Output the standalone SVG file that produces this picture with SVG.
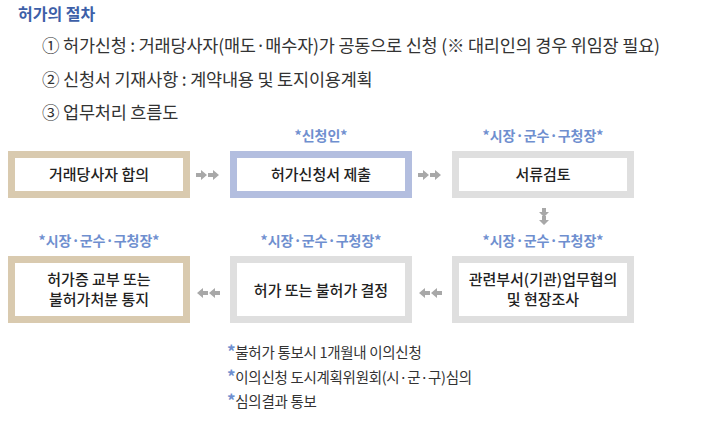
<svg xmlns="http://www.w3.org/2000/svg" width="726" height="426" viewBox="0 0 726 426">
<style>
text{font-family:"Noto Sans CJK KR","Noto Sans",sans-serif}
.h{font-size:16px;font-weight:bold;fill:#3d5fa8}
.l{font-size:17.5px;fill:#333;letter-spacing:-0.2px}
.t{font-size:15px;fill:#222;text-anchor:middle;font-weight:500}
.r{font-size:14px;fill:#6f8fcf;text-anchor:middle;font-weight:bold}
.n{font-size:14.5px;fill:#333;letter-spacing:-0.3px}
.s{fill:#6f8fcf;font-size:17px;font-weight:bold}
.box{fill:#fff;stroke-width:7}
.tan{stroke:#d9caaf}.blue{stroke:#b3bedf}.gray{stroke:#dfdfdf}
.ar{fill:#a8a8a8}
</style>
<defs>
<path id="ar" d="M0,-2 L5,-2 L5,-5 L11,0 L5,5 L5,2 L0,2 Z"/>
<path id="al" d="M11,-2 L6,-2 L6,-5 L0,0 L6,5 L6,2 L11,2 Z"/>
<path id="ad" d="M-2,0 L-2,4 L-5,4 L0,9 L5,4 L2,4 L2,0 Z"/>
</defs>
<rect width="726" height="426" fill="#fff"/>
<text class="h" x="18" y="20">허가의 절차</text>
<text class="l" x="42" y="52">① 허가신청 : 거래당사자(매도·매수자)가 공동으로 신청 (※ 대리인의 경우 위임장 필요)</text>
<text class="l" x="42" y="86">② 신청서 기재사항 : 계약내용 및 토지이용계획</text>
<text class="l" x="42" y="119">③ 업무처리 흐름도</text>

<g id="n1"><rect class="box tan" x="11.5" y="154.5" width="175" height="40"/><text class="t" x="99" y="180">거래당사자 합의</text></g>
<g id="n2"><text class="r" x="321" y="141">*신청인*</text><rect class="box blue" x="233.5" y="154.5" width="175" height="40"/><text class="t" x="321" y="180">허가신청서 제출</text></g>
<g id="n3"><text class="r" x="543" y="141">*시장·군수·구청장*</text><rect class="box gray" x="455.5" y="154.5" width="175" height="40"/><text class="t" x="543" y="180">서류검토</text></g>
<g id="n4"><text class="r" x="543" y="246">*시장·군수·구청장*</text><rect class="box gray" x="455.5" y="259.5" width="175" height="60"/><text class="t" x="543" y="285">관련부서(기관)업무협의</text><text class="t" x="543" y="305">및 현장조사</text></g>
<g id="n5"><text class="r" x="321" y="246">*시장·군수·구청장*</text><rect class="box gray" x="233.5" y="259.5" width="175" height="60"/><text class="t" x="321" y="296">허가 또는 불허가 결정</text></g>
<g id="n6"><text class="r" x="99" y="246">*시장·군수·구청장*</text><rect class="box tan" x="11.5" y="259.5" width="175" height="60"/><text class="t" x="99" y="285">허가증 교부 또는</text><text class="t" x="99" y="305">불허가처분 통지</text></g>

<g id="connectors" class="ar">
<use href="#ar" x="196" y="175"/><use href="#ar" x="208" y="175"/>
<use href="#ar" x="418" y="175"/><use href="#ar" x="430" y="175"/>
<use href="#ad" x="544" y="208"/><use href="#ad" x="544" y="216"/>
<use href="#al" x="197" y="293"/><use href="#al" x="209" y="293"/>
<use href="#al" x="419" y="293"/><use href="#al" x="431" y="293"/>
</g>

<g id="notes">
<text class="n" x="227" y="358"><tspan class="s">*</tspan>불허가 통보시 1개월내 이의신청</text>
<text class="n" x="227" y="383"><tspan class="s">*</tspan>이의신청 도시계획위원회(시·군·구)심의</text>
<text class="n" x="227" y="407"><tspan class="s">*</tspan>심의결과 통보</text>
</g>
</svg>
